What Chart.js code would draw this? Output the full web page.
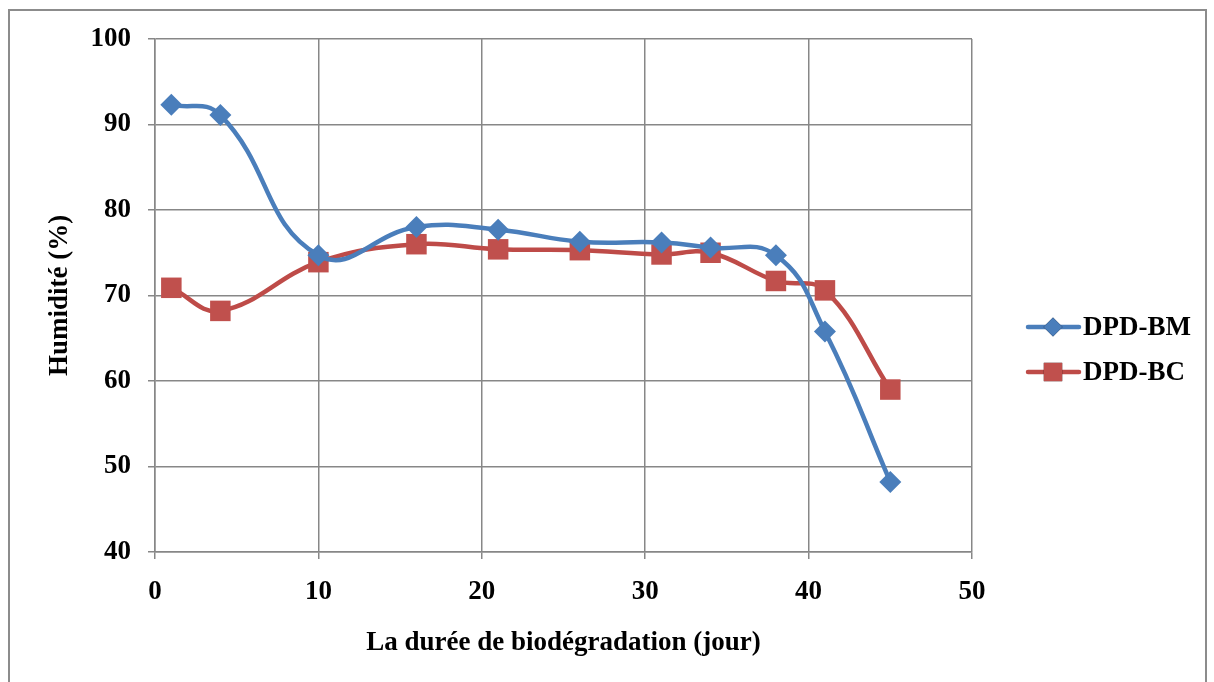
<!DOCTYPE html>
<html>
<head>
<meta charset="utf-8">
<script src="https://cdn.jsdelivr.net/npm/chart.js@4/dist/chart.umd.min.js"></script>
<style>
  html, body { margin: 0; padding: 0; background: #fff; }
  #wrap { width: 1214px; height: 682px; position: relative; }
</style>
</head>
<body>
<div id="wrap"><canvas id="chart"></canvas></div>
<script>
// jours de biodégradation
const days = [1, 4, 10, 16, 21, 26, 31, 34, 38, 41, 45];
const humBM = [92.3, 91.1, 74.7, 78.0, 77.7, 76.3, 76.2, 75.6, 74.7, 65.8, 48.2];
const humBC = [70.9, 68.2, 73.9, 76.0, 75.4, 75.3, 74.8, 75.0, 71.7, 70.6, 59.0];
const xTicks = [0, 10, 20, 30, 40, 50];
const yTicks = [40, 50, 60, 70, 80, 90, 100];

const blue = '#4A7EBB';
const red = '#BE4B48';
const gridGray = '#878787';
const font = 'Liberation Serif, "Times New Roman", serif';

// outer frame + legend drawn at the right
const framePlugin = {
    id: 'frame',
    beforeDraw(chart) {
        const ctx = chart.ctx;
        ctx.save();
        ctx.strokeStyle = '#8c8c8c';
        ctx.lineWidth = 2;
        ctx.strokeRect(9, 10, 1197, 700);
        ctx.restore();
    },
    afterDraw(chart) {
        const ctx = chart.ctx;
        const ys = [327, 372];
        ctx.save();
        chart.data.datasets.forEach((ds, i) => {
            const y = ys[i];
            ctx.strokeStyle = ds.borderColor;
            ctx.lineWidth = 4.5;
            ctx.lineCap = 'round';
            ctx.beginPath();
            ctx.moveTo(1028, y);
            ctx.lineTo(1079, y);
            ctx.stroke();
            Chart.helpers.drawPoint(ctx, {
                pointStyle: ds.pointStyle,
                radius: ds.pointStyle === 'rect' ? 13 : 9.5,
                borderWidth: 0
            }, 1053, y);
            ctx.fillStyle = ds.pointBackgroundColor;
            ctx.fill();
            ctx.fillStyle = '#000';
            ctx.font = 'bold 27px ' + font;
            ctx.textBaseline = 'middle';
            ctx.fillText(ds.label, 1083, y + 1);
        });
        ctx.restore();
    }
};

new Chart(document.getElementById('chart'), {
    type: 'scatter',
    data: {
        datasets: [{
            label: 'DPD-BM',
            data: days.map((d, i) => ({ x: d, y: humBM[i] })),
            showLine: true,
            borderColor: blue,
            backgroundColor: blue,
            pointBackgroundColor: blue,
            pointBorderWidth: 0,
            borderWidth: 4.5,
            pointStyle: 'rectRot',
            pointRadius: 11,
            tension: 0.45
        }, {
            label: 'DPD-BC',
            data: days.map((d, i) => ({ x: d, y: humBC[i] })),
            showLine: true,
            borderColor: red,
            backgroundColor: red,
            pointBackgroundColor: '#C0504D',
            pointBorderWidth: 0,
            borderWidth: 4.5,
            pointStyle: 'rect',
            pointRadius: 14.5,
            tension: 0.4
        }]
    },
    options: {
        responsive: true,
        maintainAspectRatio: false,
        animation: false,
        layout: { padding: { left: 0, top: 39, right: 242, bottom: 0 } },
        plugins: { legend: { display: false }, tooltip: { enabled: false } },
        scales: {
            x: {
                type: 'linear',
                min: 0, max: 50,
                afterBuildTicks: s => { s.ticks = xTicks.map(v => ({ value: v })); },
                afterFit: s => { s.height = 130; },
                grid: { color: gridGray, lineWidth: 1.5, tickLength: 7 },
                border: { color: gridGray, width: 1.5 },
                ticks: { color: '#000', padding: 17, font: { family: font, size: 27, weight: 'bold' } },
                title: {
                    display: true,
                    text: 'La durée de biodégradation (jour)',
                    color: '#000',
                    padding: { top: 0, bottom: 23 },
                    font: { family: font, size: 27, weight: 'bold' }
                }
            },
            y: {
                min: 40, max: 100,
                afterBuildTicks: s => { s.ticks = yTicks.map(v => ({ value: v })); },
                afterFit: s => { s.width = 155; },
                grid: { color: gridGray, lineWidth: 1.5, tickLength: 7 },
                border: { color: gridGray, width: 1.5 },
                ticks: { color: '#000', padding: 17, font: { family: font, size: 27, weight: 'bold' } },
                title: {
                    display: true,
                    text: 'Humidité (%)',
                    color: '#000',
                    padding: { top: 44, bottom: 0 },
                    font: { family: font, size: 27, weight: 'bold' }
                }
            }
        }
    },
    plugins: [framePlugin]
});
</script>
</body>
</html>
